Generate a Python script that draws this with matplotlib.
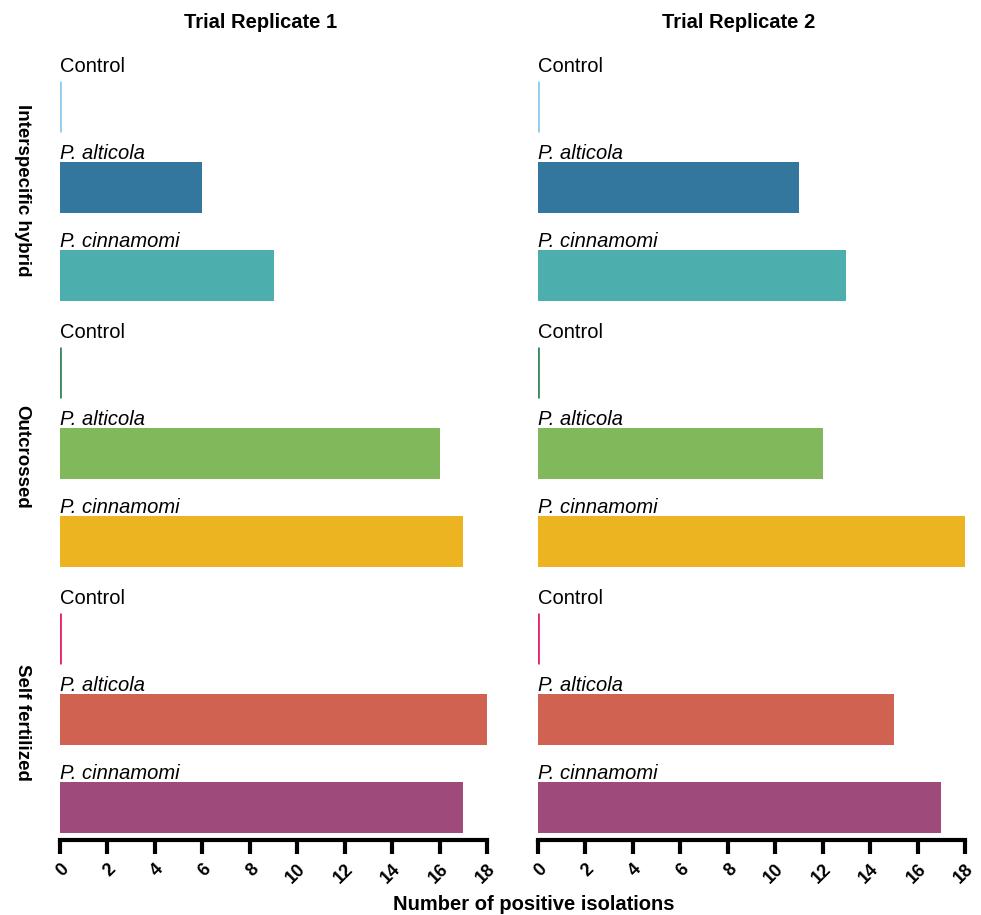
import matplotlib.pyplot as plt
from matplotlib.ticker import MultipleLocator

plt.rcParams["font.family"] = ["Liberation Sans", "DejaVu Sans"]

# Data
trials = ["Trial Replicate 1", "Trial Replicate 2"]
groups = ["Interspecific hybrid", "Outcrossed", "Self fertilized"]
treatments = ["Control", "P. alticola", "P. cinnamomi"]
trial1 = [[0, 6, 9], [0, 16, 17], [0, 18, 17]]
trial2 = [[0, 11, 13], [0, 12, 18], [0, 15, 17]]
colors = [
    ["#8fcdf0", "#33779f", "#4cafae"],
    ["#3a8a5e", "#82b85c", "#edb421"],
    ["#e8246e", "#d06252", "#9e4b7c"],
]

# Vertical layout (pixel-like units, axis is inverted)
row_offsets = [0, 81.5, 169.5]
group_step = 266
first_center = 106
bar_h = 51
label_gap = [9, 3, 3]

fig = plt.figure(figsize=(9.81, 9.15), dpi=100)
ax_left = [60 / 981, 538 / 981]
ax_w = 427 / 981
ax_bottom = (915 - 840) / 915
ax_top = (915 - 45) / 915

for t, (title, values) in enumerate(zip(trials, [trial1, trial2])):
    ax = fig.add_axes([ax_left[t], ax_bottom, ax_w, ax_top - ax_bottom])
    for g in range(len(groups)):
        for k, name in enumerate(treatments):
            yc = first_center + g * group_step + row_offsets[k]
            v = values[g][k]
            if v == 0:
                ax.barh(yc, 0, height=bar_h, color=colors[g][k],
                        edgecolor=colors[g][k], linewidth=2)
            else:
                ax.barh(yc, v, height=bar_h, color=colors[g][k], linewidth=0)
            style = "normal" if name == "Control" else "italic"
            ax.text(0, yc - bar_h / 2 - label_gap[k], name, fontsize=14.5,
                    fontstyle=style, ha="left", va="baseline")

    ax.set_xlim(0, 18)
    ax.set_ylim(840, 45)
    ax.xaxis.set_major_locator(MultipleLocator(2))
    for side in ["top", "right", "left"]:
        ax.spines[side].set_visible(False)
    ax.spines["bottom"].set_linewidth(3)
    ax.spines["bottom"].set_capstyle("projecting")
    ax.set_yticks([])
    ax.tick_params(axis="x", length=10, width=3, pad=5)
    plt.setp(ax.get_xticklabels(), rotation=45, ha="right", va="top",
             rotation_mode="anchor", fontweight="bold", fontsize=13)

    # Panel title above each column
    x0, _, w, _ = ax.get_position().bounds
    fig.text(x0 + w * 0.47, 1 - 22 / 915, title, fontsize=14.5,
             fontweight="bold", ha="center", va="center")

# Group labels down the left side
for g, name in enumerate(groups):
    yc = first_center + g * group_step + row_offsets[1] + 3
    fig.text(22 / 981, 1 - yc / 915, name, rotation=-90, fontsize=13.5,
             fontweight="bold", ha="center", va="center")

fig.text(534 / 981, 1 - 904 / 915, "Number of positive isolations",
         fontsize=14.5, fontweight="bold", ha="center", va="center")

plt.savefig("out.png", dpi=100)
